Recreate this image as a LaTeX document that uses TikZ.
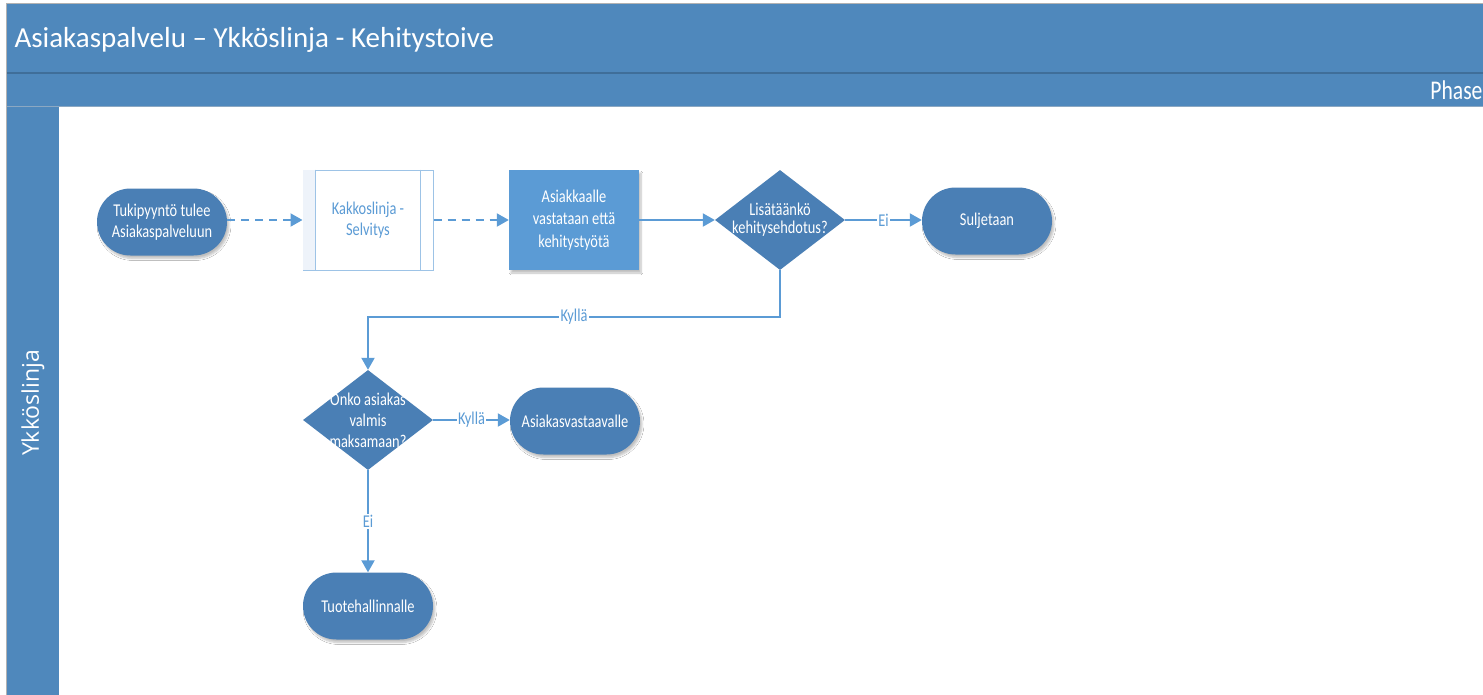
\documentclass[tikz,border=0pt]{standalone}
\usepackage{fontspec}
\setmainfont{Carlito}
\newfontfamily\narrowfont{Carlito}[FakeStretch=0.8]
\newfontfamily\lanefont{Open Sans}
\usetikzlibrary{arrows.meta,shapes.geometric,shadows.blur}

\definecolor{band}{HTML}{4F88BC}
\definecolor{bandline}{HTML}{3F6E99}
\definecolor{shapefill}{HTML}{4A7FB5}
\definecolor{flow}{HTML}{5B9BD5}
\definecolor{edgeblue}{HTML}{9DC3E6}
\definecolor{stripfill}{HTML}{EEF3FA}

% text centred in a diamond without widening it: #1 shift, #2 row stretch, #3 lines
\newcommand{\diamondtext}[3]{\smash{\makebox[0pt]{\raisebox{#1}{%
  \renewcommand{\arraystretch}{#2}\begin{tabular}{@{}c@{}}#3\end{tabular}}}}}

\begin{document}
\begin{tikzpicture}[x=1pt,y=-1pt,
  nodefont/.style={font=\narrowfont\fontsize{18}{20.5}\selectfont},
  terminal/.style={nodefont, fill=shapefill, text=white, rounded corners=33.5,
    minimum width=130, minimum height=67, inner sep=0, align=center,
    blur shadow={shadow xshift=2pt, shadow yshift=-3pt, shadow opacity=25, shadow blur steps=6}},
  decision/.style={nodefont, diamond, fill=shapefill, text=white, aspect=1.3,
    minimum width=130, minimum height=100, inner sep=0},
  subproc/.style={nodefont, draw=edgeblue, line width=1pt, fill=white, text=flow,
    minimum width=130, minimum height=100, inner sep=0, align=center},
  process/.style={nodefont, fill=flow, text=white, minimum width=130, minimum height=100,
    inner sep=0, align=center, font=\narrowfont\fontsize{18}{22.5}\selectfont,
    blur shadow={shadow xshift=2pt, shadow yshift=-3pt, shadow opacity=25, shadow blur steps=6}},
  flowline/.style={draw=flow, line width=2pt, -{Triangle[length=12pt,width=13pt]}},
  dashflow/.style={flowline, dash pattern=on 8pt off 6pt},
  lbl/.style={font=\narrowfont\fontsize{18}{20}\selectfont, text=flow, fill=white, inner sep=1.5pt}
]
\useasboundingbox (0,0) rectangle (1483,694);
\begin{scope}
\clip (0,0) rectangle (1483,694);
\fill[white] (0,0) rectangle (1483,694);
% pool frame and header bands
\fill[band] (6,3) rectangle (1490,72);
\fill[band] (6,74) rectangle (1490,106);
\draw[bandline, line width=1.5pt] (6,73) -- (1490,73);
\draw[bandline!60, line width=0.8pt] (6,106.5) -- (1490,106.5);
\fill[band] (6,107) rectangle (59,700);
\draw[gray!60, line width=0.8pt] (6,700) -- (6,3) -- (1490,3);

\node[anchor=west, text=white, font=\fontsize{29}{32}\selectfont] (title) at (11,40)
  {Asiakaspalvelu – Ykköslinja - Kehitystoive};
\node[anchor=east, text=white, font=\narrowfont\fontsize{27}{30}\selectfont] (phase) at (1486,90) {Phase};
\node[rotate=90, text=white, font=\lanefont\fontsize{23}{26}\selectfont] (lane) at (33,403) {Ykköslinja};

% flow shapes
\node[terminal] (start) at (162,222) {Tukipyyntö tulee\\Asiakaspalveluun};
\node[subproc] (kakkos) at (368,220) {Kakkoslinja -\\Selvitys};
\fill[stripfill] ([xshift=0.5pt,yshift=-0.5pt]kakkos.north west) rectangle ([xshift=13pt,yshift=0.5pt]kakkos.south west);
\draw[edgeblue, line width=1pt] ([xshift=13pt]kakkos.north west) -- ([xshift=13pt]kakkos.south west);
\draw[edgeblue, line width=1pt] ([xshift=-13pt]kakkos.north east) -- ([xshift=-13pt]kakkos.south east);
\node[process] (answer) at (574,220) {Asiakkaalle\\vastataan että\\kehitystyötä};
\node[decision] (addq) at (780,220) {\diamondtext{-5pt}{0.9}{Lisätäänkö\\kehitysehdotus?}};
\node[terminal] (close) at (987,221) {Suljetaan};
\node[decision] (payq) at (368,420) {\diamondtext{-7pt}{1.02}{Onko asiakas\\valmis\\maksamaan?}};
\node[terminal] (account) at (575,421) {Asiakasvastaavalle};
\node[terminal] (product) at (368,606) {Tuotehallinnalle};

% connectors
\draw[dashflow] (start.east |- kakkos) -- (kakkos);
\draw[dashflow] (kakkos) -- (answer);
\draw[flowline] (answer) -- (addq);
\draw[flowline] (addq) -- node[lbl] {Ei} (close.west |- addq);
\coordinate (bend) at (780,317);
\draw[flowline] (addq.south) -- (bend) -| node[lbl, pos=0.25] {Kyllä} (payq.north);
\draw[flowline] (payq) -- node[lbl] {Kyllä} (account.west |- payq);
\draw[flowline] (payq.south) -- node[lbl] {Ei} (product);
\end{scope}
\end{tikzpicture}
\end{document}
